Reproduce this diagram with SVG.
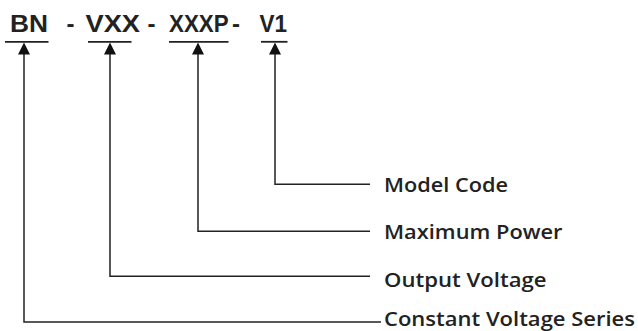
<svg xmlns="http://www.w3.org/2000/svg" width="638" height="331" viewBox="0 0 638 331">
<style>
.code{font-family:"Liberation Sans",Arial,sans-serif;font-weight:bold;font-size:24px;fill:#222}
.lbl{font-family:"Open Sans","Noto Sans",sans-serif;font-weight:600;font-size:19.5px;fill:#222}
.ul{stroke:#222;stroke-width:1.8;fill:none}
.ln{stroke:#222;stroke-width:1.5;fill:none}
.ah{fill:#111}
</style>
<rect width="638" height="331" fill="#fff"/>
<g id="code">
<text class="code" x="10" y="32" textLength="38" lengthAdjust="spacingAndGlyphs">BN</text>
<text class="code" x="66.5" y="32">-</text>
<text class="code" x="85.5" y="32" textLength="54.5" lengthAdjust="spacingAndGlyphs">VXX</text>
<text class="code" x="147.5" y="32">-</text>
<text class="code" x="169" y="32" textLength="59.5" lengthAdjust="spacingAndGlyphs">XXXP</text>
<text class="code" x="232" y="32">-</text>
<text class="code" x="259.5" y="32" textLength="27.5" lengthAdjust="spacingAndGlyphs">V1</text>
<line class="ul" x1="5" y1="41.8" x2="48.5" y2="41.8"/>
<line class="ul" x1="88" y1="41.8" x2="131.5" y2="41.8"/>
<line class="ul" x1="169" y1="41.8" x2="228.5" y2="41.8"/>
<line class="ul" x1="261" y1="41.8" x2="287.5" y2="41.8"/>
</g>
<g id="connectors">
<path class="ln" d="M275,54 V184.3 H370"/>
<path class="ln" d="M198,54 V231.3 H370"/>
<path class="ln" d="M110,54 V276.3 H370"/>
<path class="ln" d="M24,54 V322 H381"/>
<polygon class="ah" points="24,42.5 18,54.5 30,54.5"/>
<polygon class="ah" points="110,42.5 104,54.5 116,54.5"/>
<polygon class="ah" points="198,42.5 192,54.5 204,54.5"/>
<polygon class="ah" points="275,42.5 269,54.5 281,54.5"/>
</g>
<g id="label-model-code"><text class="lbl" x="384" y="192" textLength="124" lengthAdjust="spacingAndGlyphs">Model Code</text></g>
<g id="label-maximum-power"><text class="lbl" x="384" y="239" textLength="178.5" lengthAdjust="spacingAndGlyphs">Maximum Power</text></g>
<g id="label-output-voltage"><text class="lbl" x="384" y="286.5" textLength="162.5" lengthAdjust="spacingAndGlyphs">Output Voltage</text></g>
<g id="label-constant-voltage-series"><text class="lbl" x="384" y="326" textLength="251" lengthAdjust="spacingAndGlyphs">Constant Voltage Series</text></g>
</svg>
